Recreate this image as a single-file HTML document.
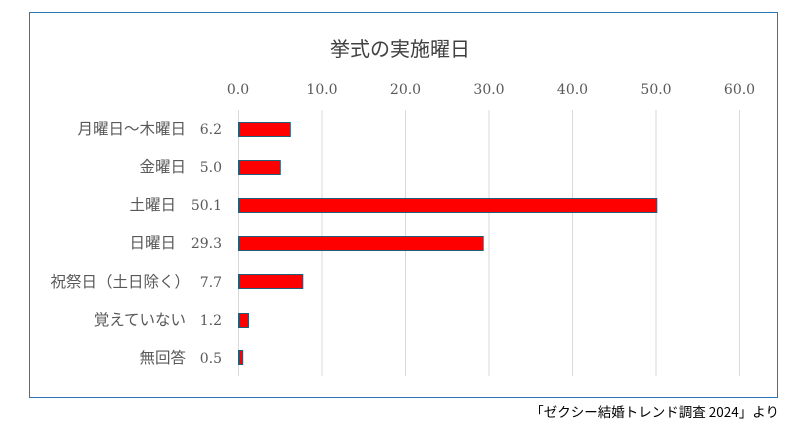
<!DOCTYPE html>
<html><head><meta charset="utf-8"><style>
body{margin:0;background:#fff;width:798px;height:439px;overflow:hidden}
text{fill:#595959}
.n{font-family:"DejaVu Serif","Liberation Serif",serif}
.j{font-family:"Noto Sans CJK JP",sans-serif}
</style></head><body>
<svg width="798" height="439" xmlns="http://www.w3.org/2000/svg">
<rect x="29.5" y="12.5" width="748" height="385" fill="#fff" stroke="#2e75b6" stroke-width="1"/>
<text class="j" x="400" y="56" font-size="20" text-anchor="middle" style="fill:#404040">挙式の実施曜日</text>
<g stroke="#d9d9d9" stroke-width="1">
<line x1="238.5" y1="110" x2="238.5" y2="376"/>
<line x1="322" y1="110" x2="322" y2="376"/>
<line x1="405.5" y1="110" x2="405.5" y2="376"/>
<line x1="489" y1="110" x2="489" y2="376"/>
<line x1="572.5" y1="110" x2="572.5" y2="376"/>
<line x1="656" y1="110" x2="656" y2="376"/>
<line x1="739.5" y1="110" x2="739.5" y2="376"/>
</g>
<g class="n" font-size="14" text-anchor="middle">
<text x="238" y="94">0.0</text><text x="322" y="94">10.0</text><text x="405.5" y="94">20.0</text>
<text x="489" y="94">30.0</text><text x="572.5" y="94">40.0</text><text x="656" y="94">50.0</text><text x="739.5" y="94">60.0</text>
</g>
<g fill="#ff0000" stroke="#1f5f7a" stroke-width="1">
<rect x="238.5" y="122.5" width="51.8" height="14"/>
<rect x="238.5" y="160.5" width="41.8" height="14"/>
<rect x="238.5" y="198.5" width="418.3" height="14"/>
<rect x="238.5" y="236.5" width="244.7" height="14"/>
<rect x="238.5" y="274.5" width="64.3" height="14"/>
<rect x="238.5" y="313.5" width="10" height="14"/>
<rect x="238.5" y="350.5" width="4.2" height="14"/>
</g>
<g class="n" font-size="14" text-anchor="end">
<text x="222" y="134">6.2</text><text x="222" y="172">5.0</text><text x="222" y="210">50.1</text>
<text x="222" y="248">29.3</text><text x="222" y="287">7.7</text><text x="222" y="325">1.2</text><text x="222" y="363">0.5</text>
</g>
<g class="j" font-size="15.5" text-anchor="end">
<text class="j" x="186" y="134">月曜日～木曜日</text>
<text class="j" x="186" y="172">金曜日</text>
<text class="j" x="176" y="210">土曜日</text>
<text class="j" x="176" y="248">日曜日</text>
<text class="j" x="190" y="287">祝祭日（土日除く）</text>
<text class="j" x="186" y="325">覚えていない</text>
<text class="j" x="186" y="363">無回答</text>
</g>
<text class="j" x="779" y="417" font-size="13.5" text-anchor="end" style="fill:#000">「ゼクシー結婚トレンド調査 2024」より</text>
</svg>
</body></html>
